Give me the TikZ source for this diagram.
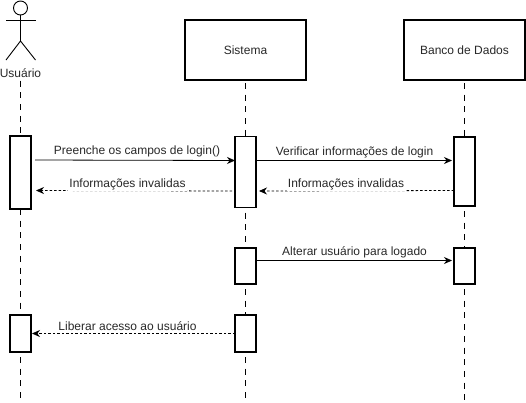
\documentclass[tikz,border=0pt]{standalone}
\usepackage{fontspec}
\setmainfont{Liberation Sans}
\usetikzlibrary{arrows.meta}
\definecolor{escuro}{RGB}{40, 40, 40}

\begin{document}
\begin{tikzpicture}[x=1pt, y=-1pt,
  header/.style={draw, line width=1.9, fill=white, minimum width=121pt, minimum height=60pt, inner sep=0, outer sep=0, font=\fontsize{12}{14}\selectfont, text=escuro},
  ativ/.style={draw, line width=1.9, fill=white, minimum width=21pt, inner sep=0, outer sep=0},
  vida/.style={line width=1.9, dash pattern=on 6pt off 5.7pt},
  rotulo/.style={inner sep=1pt, font=\fontsize{12}{14}\selectfont, text=escuro},
  corte/.style={rotulo, fill=white},
  msg/.style={-{Stealth[length=8pt, width=7pt]}, line width=0.8},
  ret/.style={-{Stealth[length=8pt, width=7pt]}, line width=0.8, dash pattern=on 2.5pt off 2pt},
  ator/.style={line width=0.9}
]
  \useasboundingbox (0, 0) rectangle (526, 402);

  \node[header] (sistema) at (245.5, 50) {Sistema};
  \node[header] (banco) at (464.5, 50) {Banco de Dados};
  \node[rotulo, inner sep=0] (usuario) at (20.5, 73) {Usuário};

  \node[ativ, minimum height=73pt] (u1) at (20.5, 172.5) {};
  \node[ativ, minimum height=37pt] (u2) at (20.5, 333.5) {};
  \node[ativ, minimum height=71pt] (s1) at (245.5, 172) {};
  \node[ativ, minimum height=36pt] (s2) at (245.5, 266) {};
  \node[ativ, minimum height=37pt] (s3) at (245.5, 333.5) {};
  \node[ativ, minimum height=69pt] (b1) at (464.5, 171.5) {};
  \node[ativ, minimum height=36pt] (b2) at (464.5, 266) {};

  \coordinate (fimU) at (20.5, 402);
  \coordinate (fimS) at (245.5, 402);
  \coordinate (fimB) at (464.5, 402);

  % linhas de vida
  \draw[vida] ([yshift=-3pt]usuario.south) -- (u1.north);
  \draw[vida] (u1.south) -- (u2.north);
  \draw[vida] ([yshift=-5pt]u2.south) -- (fimU);
  \draw[vida] ([yshift=-3pt]sistema.south) -- (s1.north);
  \draw[vida] ([yshift=-5pt]s1.south) -- (s2.north);
  \draw[vida] ([yshift=-5pt]s2.south) -- (s3.north);
  \draw[vida] ([yshift=-5pt]s3.south) -- (fimS);
  \draw[vida] ([yshift=-3pt]banco.south) -- (b1.north);
  \draw[vida] ([yshift=-5pt]b1.south) -- (b2.north);
  \draw[vida] ([yshift=-5pt]b2.south) -- (fimB);

  % mensagens
  \draw[msg] ([xshift=4pt, yshift=-24pt]u1.north east) -- ([yshift=-24pt]s1.north west);
  \draw[msg] ([yshift=-24pt]s1.north east) -- ([xshift=-2pt, yshift=-23.5pt]b1.north west);
  \draw[ret] ([xshift=-3pt, yshift=-54.5pt]s1.north west) -- ([xshift=5pt, yshift=-54.5pt]u1.north east);
  \draw[ret] ([yshift=-53.5pt]b1.north west) -- ([xshift=3pt, yshift=-54.5pt]s1.north east);
  \draw[msg] ([yshift=-12.5pt]s2.north east) -- ([xshift=-2pt, yshift=-12.5pt]b2.north west);
  \draw[ret] ([yshift=-18.5pt]s3.north west) -- ([xshift=1pt, yshift=-18.5pt]u2.north east);

  \node[rotulo] (l1) at (137, 151) {Preenche os campos de login()};
  \node[corte] (l2) at (127.5, 184) {Informações invalidas};
  \node[rotulo] (l3) at (354.5, 152.5) {Verificar informações de login};
  \node[corte] (l4) at (346, 184) {Informações invalidas};
  \node[rotulo] (l5) at (354.5, 252.5) {Alterar usuário para logado};
  \node[rotulo] (l6) at (127.5, 326.5) {Liberar acesso ao usuário};

  % ator
  \node[draw, ator, circle, minimum size=14pt, inner sep=0, outer sep=0] (cabeca) at (20.5, 8) {};
  \coordinate (quadril) at (20.5, 41);
  \coordinate (maoE) at (6, 20);
  \coordinate (maoD) at (35.5, 20);
  \coordinate (peE) at (6, 60);
  \coordinate (peD) at (35.5, 60);
  \draw[ator] (cabeca.south) -- (quadril);
  \draw[ator] (maoE) -- (maoD);
  \draw[ator] (peE) -- (quadril) -- (peD);
\end{tikzpicture}
\end{document}
